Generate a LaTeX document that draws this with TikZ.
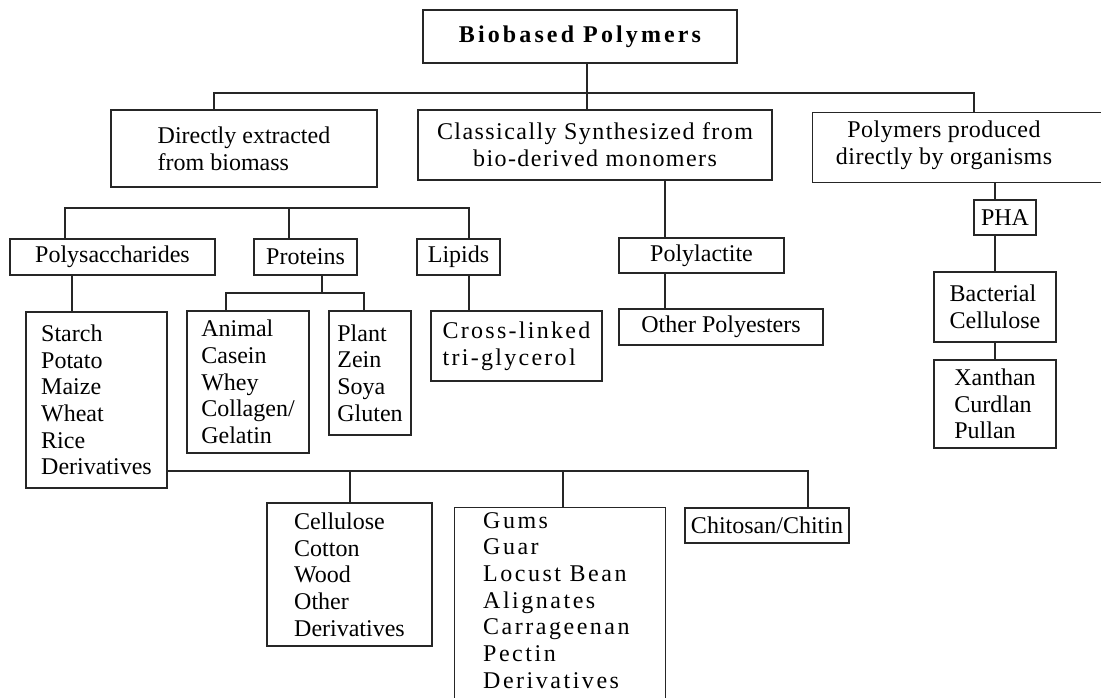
\documentclass[tikz,border=0pt]{standalone}
\usepackage{fontspec}
\setmainfont{Liberation Serif}

\begin{document}
\begin{tikzpicture}[x=1pt,y=-1pt,
  box/.style={draw=black!85,line width=1.1pt,inner sep=0pt,align=center,
    font=\fontsize{24}{26.7}\selectfont},
  list/.style={box,align=left},
  txt/.style={inner sep=0pt,font=\fontsize{24}{26.7}\selectfont},
  wide/.style={font=\fontsize{24}{26.7}\selectfont\addfontfeature{LetterSpace=#1}},
  link/.style={draw=black!85,line width=1.1pt}]
\useasboundingbox (0,0) rectangle (1101,697);

% top level
\node[box,minimum width=314,minimum height=53,
  font=\fontsize{24}{26.7}\selectfont\bfseries\addfontfeature{LetterSpace=13}]
  (top) at (580,36.5) {Biobased Polymers};

\node[list,minimum width=266,minimum height=77] (abox) at (244,148.5)
  {Directly extracted\\from biomass};
\node[box,minimum width=354,minimum height=70,wide=6]
  (bbox) at (595,145) {Classically Synthesized from\\bio-derived monomers};
\node[box,minimum width=310,minimum height=70,anchor=north west] (cbox) at (812,112) {};
\node[txt,align=center,anchor=north,wide=2] (ctext) at ([shift={(132,9)}]cbox.north west)
  {Polymers produced\\directly by organisms};

% extracted from biomass
\node[box,minimum width=205,minimum height=36] (poly) at (112.5,257) {Polysaccharides};
\node[box,minimum width=103,minimum height=36] (prot) at (305.5,257) {Proteins};
\node[box,minimum width=83,minimum height=36] (lip) at (458.5,257) {Lipids};

\node[list,minimum width=141,minimum height=176] (starch) at (96.5,400)
  {Starch\\Potato\\Maize\\Wheat\\Rice\\Derivatives};
\node[list,minimum width=122,minimum height=142] (animal) at (248,382)
  {Animal\\Casein\\Whey\\Collagen/\\Gelatin};
\node[list,minimum width=82,minimum height=124] (plant) at (370,373)
  {Plant\\Zein\\Soya\\Gluten};
\node[list,minimum width=171,minimum height=70,wide=9.5] (cross) at (516.5,346)
  {Cross-linked\\tri-glycerol};

\node[list,minimum width=165,minimum height=143] (cell) at (349.5,574.5)
  {Cellulose\\Cotton\\Wood\\Other\\Derivatives};
\node[box,minimum width=211,minimum height=220,anchor=north west] (gums) at (454,507) {};
\node[txt,align=left,anchor=north west,wide=10.5] (gumstext) at ([shift={(29,5)}]gums.north west)
  {Gums\\Guar\\Locust Bean\\Alignates\\Carrageenan\\Pectin\\Derivatives};
\node[box,minimum width=164,minimum height=35] (chit) at (767,525.5) {Chitosan/Chitin};

% synthesized
\node[box,minimum width=165,minimum height=35] (pla) at (701.5,255.5) {Polylactite};
\node[box,minimum width=204,minimum height=36] (othp) at (721,327) {Other Polyesters};

% organisms
\node[box,minimum width=62,minimum height=35] (pha) at (1005,217.5) {PHA};
\node[list,minimum width=122,minimum height=70] (bact) at (995,307) {Bacterial\\Cellulose};
\node[list,minimum width=122,minimum height=88] (xan) at (995,404) {Xanthan\\Curdlan\\Pullan};

% connectors
\coordinate (jA) at (214,93);
\coordinate (jB) at (587,93);
\coordinate (jC) at (974,93);
\draw[link] (top.south -| jB) -- (bbox.north -| jB);
\draw[link] (abox.north -| jA) -- (jA) -- (jC) -- (cbox.north -| jC);

\coordinate (jP) at (65,208);
\coordinate (jR) at (289,208);
\coordinate (jL) at (469,208);
\draw[link] (poly.north -| jP) -- (jP) -- (jL) -- (lip.north -| jL);
\draw[link] (jR) -- (prot.north -| jR);

\coordinate (jS) at (72,290);
\draw[link] (poly.south -| jS) -- (starch.north -| jS);

\coordinate (jQ) at (322,293);
\coordinate (jQa) at (226,293);
\coordinate (jQb) at (364,293);
\draw[link] (prot.south -| jQ) -- (jQ);
\draw[link] (animal.north -| jQa) -- (jQa) -- (jQb) -- (plant.north -| jQb);
\draw[link] (lip.south -| jL) -- (cross.north -| jL);

\coordinate (jT) at (350,471);
\coordinate (jG) at (563,471);
\coordinate (jH) at (808,471);
\draw[link] (starch.east |- jT) -- (jH) -- (chit.north -| jH);
\draw[link] (jT) -- (cell.north -| jT);
\draw[link] (jG) -- (gums.north -| jG);

\coordinate (jM) at (665,200);
\draw[link] (bbox.south -| jM) -- (pla.north -| jM);
\draw[link] (pla.south -| jM) -- (othp.north -| jM);

\coordinate (jN) at (995,200);
\draw[link] (cbox.south -| jN) -- (pha.north -| jN);
\draw[link] (pha.south -| jN) -- (bact.north -| jN);
\draw[link] (bact.south -| jN) -- (xan.north -| jN);
\end{tikzpicture}
\end{document}
